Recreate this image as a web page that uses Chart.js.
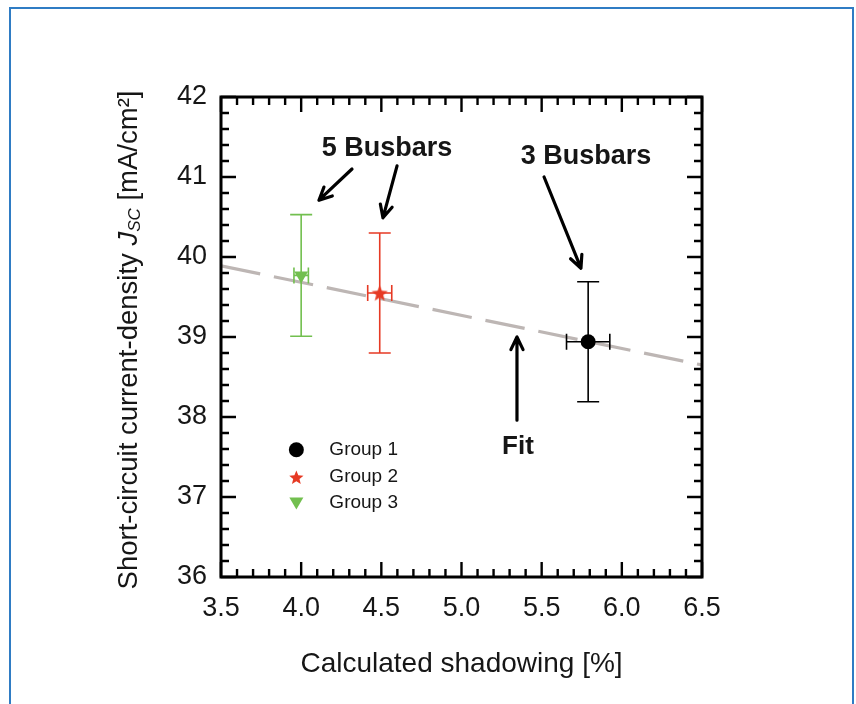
<!DOCTYPE html>
<html>
<head>
<meta charset="utf-8">
<script src="https://cdn.jsdelivr.net/npm/chart.js@4.4.0/dist/chart.umd.min.js"></script>
<style>
  html, body { margin: 0; padding: 0; background: #fff; }
  #wrap { position: relative; width: 856px; height: 704px; overflow: hidden; }
  #frame { position: absolute; left: 9px; top: 7px; width: 845px; height: 720px; border: 2px solid #2f7cc4; box-sizing: border-box; pointer-events: none; }
  canvas { position: absolute; left: 0; top: 0; }
</style>
</head>
<body>
<div id="wrap"><canvas id="chart" width="856" height="704"></canvas><div id="frame"></div></div>
<script>
// --- data ---
const groupNames = ['Group 1', 'Group 2', 'Group 3'];
const shadowing = [5.79, 4.49, 4.0];
const shadowingErr = [0.135, 0.075, 0.045];
const jsc = [38.94, 39.55, 39.77];
const jscErr = [0.75, 0.75, 0.76];
const groupColors = ['#000000', '#e63a24', '#72bf4f'];

const fitX = [3.5, 6.5];
const fitY = [39.89, 38.65];

const xTickValues = [3.5, 4.0, 4.5, 5.0, 5.5, 6.0, 6.5];
const xTickLabels = ['3.5', '4.0', '4.5', '5.0', '5.5', '6.0', '6.5'];
const yTickValues = [36, 37, 38, 39, 40, 41, 42];
const yTickLabels = ['36', '37', '38', '39', '40', '41', '42'];

// annotation text + arrows, in data units
const noteLabels = ['5 Busbars', '3 Busbars', 'Fit'];
const noteAt = [[4.535, 41.36], [5.777, 41.26], [5.352, 37.63]];
const arrowFrom = [[4.317, 41.10], [4.598, 41.14], [5.515, 41.00], [5.346, 37.96]];
const arrowTo = [[4.111, 40.71], [4.510, 40.49], [5.745, 39.86], [5.346, 39.00]];

const FONT = "'Liberation Sans', Arial, sans-serif";
const TEXT = '#161616';

function drawStar(c, cx, cy, ro, ri) {
    c.beginPath();
    for (let i = 0; i < 10; i++) {
        const r = i % 2 === 0 ? ro : ri;
        const a = -Math.PI / 2 + i * Math.PI / 5;
        const px = cx + Math.cos(a) * r, py = cy + Math.sin(a) * r;
        if (i === 0) c.moveTo(px, py); else c.lineTo(px, py);
    }
    c.closePath();
    c.fill();
}

// star marker image (Chart.js 'star' is an asterisk)
function starImage(size, color) {
    const cv = document.createElement('canvas');
    cv.width = size; cv.height = size;
    const c = cv.getContext('2d');
    c.fillStyle = color;
    drawStar(c, size / 2, size / 2 + 0.8, size / 2, size / 4.6);
    return cv;
}

const pointStyles = ['circle', starImage(17, groupColors[1]), 'triangle'];
const pointRot = [0, 0, 180];
const pointRad = [7.5, 8, 8];

function arrow(c, x1, y1, x2, y2) {
    const ang = Math.atan2(y2 - y1, x2 - x1);
    const head = 14, spread = 0.45;
    c.beginPath();
    c.moveTo(x1, y1); c.lineTo(x2, y2);
    c.moveTo(x2 - head * Math.cos(ang - spread), y2 - head * Math.sin(ang - spread));
    c.lineTo(x2, y2);
    c.lineTo(x2 - head * Math.cos(ang + spread), y2 - head * Math.sin(ang + spread));
    c.stroke();
}

const errorBars = {
    id: 'errorBars',
    beforeDatasetDraw(chart, args) {
        const i = args.index;
        if (i >= groupNames.length) return;
        const c = chart.ctx, xs = chart.scales.x, ys = chart.scales.y;
        const px = xs.getPixelForValue(shadowing[i]), py = ys.getPixelForValue(jsc[i]);
        const yTop = ys.getPixelForValue(jsc[i] + jscErr[i]);
        const yBot = ys.getPixelForValue(jsc[i] - jscErr[i]);
        const xL = xs.getPixelForValue(shadowing[i] - shadowingErr[i]);
        const xR = xs.getPixelForValue(shadowing[i] + shadowingErr[i]);
        c.save();
        c.strokeStyle = groupColors[i];
        c.lineWidth = 1.6;
        c.beginPath();
        c.moveTo(px, yTop); c.lineTo(px, yBot);
        c.moveTo(px - 11, yTop); c.lineTo(px + 11, yTop);
        c.moveTo(px - 11, yBot); c.lineTo(px + 11, yBot);
        c.moveTo(xL, py); c.lineTo(xR, py);
        c.moveTo(xL, py - 8); c.lineTo(xL, py + 8);
        c.moveTo(xR, py - 8); c.lineTo(xR, py + 8);
        c.stroke();
        c.restore();
    }
};

const decor = {
    id: 'decor',
    afterDraw(chart) {
        const c = chart.ctx, a = chart.chartArea, xs = chart.scales.x, ys = chart.scales.y;
        c.save();

        // inward ticks on all four sides
        c.strokeStyle = '#000';
        c.lineWidth = 2.4;
        c.beginPath();
        const x0 = xTickValues[0], x1 = xTickValues[xTickValues.length - 1];
        for (let k = 0; k <= Math.round((x1 - x0) / 0.1); k++) {
            const px = xs.getPixelForValue(x0 + k * 0.1);
            const len = k % 5 === 0 ? 15 : 8;
            c.moveTo(px, a.bottom); c.lineTo(px, a.bottom - len);
            c.moveTo(px, a.top); c.lineTo(px, a.top + len);
        }
        const y0 = yTickValues[0], y1 = yTickValues[yTickValues.length - 1];
        for (let k = 0; k <= Math.round((y1 - y0) / 0.2); k++) {
            const py = ys.getPixelForValue(y0 + k * 0.2);
            const len = k % 5 === 0 ? 15 : 8;
            c.moveTo(a.left, py); c.lineTo(a.left + len, py);
            c.moveTo(a.right, py); c.lineTo(a.right - len, py);
        }
        c.stroke();

        // plot frame
        c.lineWidth = 3;
        c.strokeRect(a.left, a.top, a.right - a.left, a.bottom - a.top);

        // annotations
        c.fillStyle = TEXT;
        c.textAlign = 'center';
        c.textBaseline = 'middle';
        c.font = 'bold 27px ' + FONT;
        noteLabels.forEach((t, i) => {
            if (t === 'Fit') c.font = 'bold 26px ' + FONT;
            c.fillText(t, xs.getPixelForValue(noteAt[i][0]), ys.getPixelForValue(noteAt[i][1]));
        });
        c.strokeStyle = '#000';
        c.lineWidth = 3.2;
        c.lineCap = 'round';
        c.lineJoin = 'round';
        arrowFrom.forEach((f, i) => {
            arrow(c, xs.getPixelForValue(f[0]), ys.getPixelForValue(f[1]),
                xs.getPixelForValue(arrowTo[i][0]), ys.getPixelForValue(arrowTo[i][1]));
        });

        // legend inside plot
        const lx = xs.getPixelForValue(3.97);
        const ly = [37.59, 37.25, 36.93].map(v => ys.getPixelForValue(v));
        c.fillStyle = groupColors[0];
        c.beginPath(); c.arc(lx, ly[0], 7.5, 0, Math.PI * 2); c.fill();
        c.fillStyle = groupColors[1];
        drawStar(c, lx, ly[1] + 1, 7.5, 3.3);
        c.fillStyle = groupColors[2];
        c.beginPath();
        c.moveTo(lx - 7, ly[2] - 5); c.lineTo(lx + 7, ly[2] - 5); c.lineTo(lx, ly[2] + 7);
        c.closePath(); c.fill();
        c.fillStyle = TEXT;
        c.font = '19px ' + FONT;
        c.textAlign = 'left';
        groupNames.forEach((g, i) => c.fillText(g, lx + 33, ly[i]));

        // axis titles
        c.font = '28px ' + FONT;
        c.textAlign = 'center';
        c.fillText('Calculated shadowing [%]', (a.left + a.right) / 2, 664);

        c.translate(129, (a.top + a.bottom) / 2 + 3);
        c.rotate(-Math.PI / 2);
        const parts = [
            ['Short-circuit current-density ', '27.5px ' + FONT, 0],
            ['J', 'italic 27.5px ' + FONT, 0],
            ['SC', 'italic 17px ' + FONT, 6],
            [' [mA/cm\u00B2]', '27.5px ' + FONT, 0]
        ];
        let total = 0;
        parts.forEach(p => { c.font = p[1]; total += c.measureText(p[0]).width; });
        let cx = -total / 2;
        c.textAlign = 'left';
        parts.forEach(p => {
            c.font = p[1];
            c.fillText(p[0], cx, p[2]);
            cx += c.measureText(p[0]).width;
        });
        c.restore();
    }
};

const groupSets = groupNames.map((g, i) => ({
    label: g,
    data: [{ x: shadowing[i], y: jsc[i] }],
    backgroundColor: groupColors[i],
    borderColor: groupColors[i],
    borderWidth: 0,
    pointStyle: pointStyles[i],
    rotation: pointRot[i],
    pointRadius: pointRad[i]
}));

new Chart(document.getElementById('chart'), {
    type: 'scatter',
    data: {
        datasets: [
            ...groupSets,
            {
                type: 'line',
                label: 'Fit',
                data: fitX.map((x, i) => ({ x: x, y: fitY[i] })),
                borderColor: '#bdb6b4',
                borderWidth: 3.2,
                borderDash: [40, 14],
                pointRadius: 0,
                fill: false
            }
        ]
    },
    options: {
        responsive: false,
        animation: false,
        layout: { padding: { top: 97, right: 154, left: 0, bottom: 0 } },
        plugins: { legend: { display: false }, tooltip: { enabled: false } },
        scales: {
            x: {
                type: 'linear',
                min: xTickValues[0],
                max: xTickValues[xTickValues.length - 1],
                grid: { display: false, drawTicks: false },
                border: { display: false },
                afterBuildTicks: s => { s.ticks = xTickValues.map(v => ({ value: v })); },
                afterFit: s => { s.height = 127; },
                ticks: {
                    padding: 15,
                    color: TEXT,
                    maxRotation: 0,
                    font: { family: FONT, size: 27 },
                    callback: (v, i) => xTickLabels[i]
                }
            },
            y: {
                type: 'linear',
                min: yTickValues[0],
                max: yTickValues[yTickValues.length - 1],
                grid: { display: false, drawTicks: false },
                border: { display: false },
                afterBuildTicks: s => { s.ticks = yTickValues.map(v => ({ value: v })); },
                afterFit: s => { s.width = 221; },
                ticks: {
                    padding: 14,
                    color: TEXT,
                    font: { family: FONT, size: 27 },
                    callback: (v, i) => yTickLabels[i]
                }
            }
        }
    },
    plugins: [errorBars, decor]
});
</script>
</body>
</html>
